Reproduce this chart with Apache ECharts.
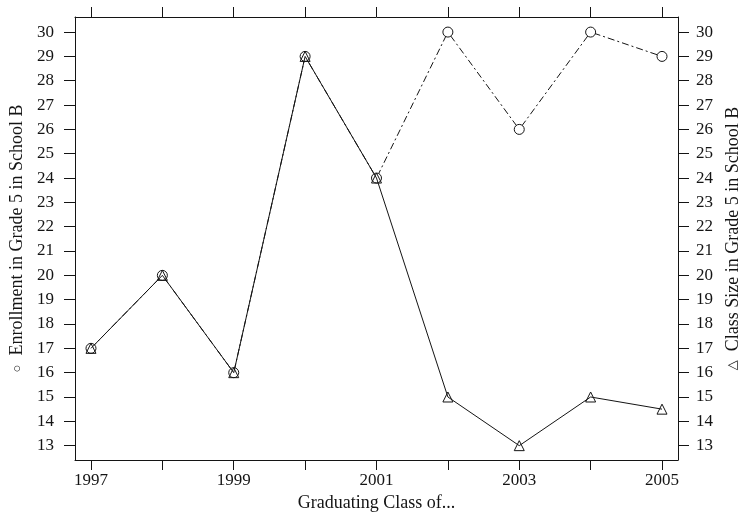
<!DOCTYPE html>
<html>
<head>
<meta charset="utf-8">
<script src="https://cdn.jsdelivr.net/npm/echarts@6/dist/echarts.min.js"></script>
<style>html,body{margin:0;padding:0;background:#fff}#c{width:739px;height:515px}</style>
</head>
<body>
<div id="c"></div>
<script>
var years = [1997, 1998, 1999, 2000, 2001, 2002, 2003, 2004, 2005];
var enrollment = [17, 20, 16, 29, 24, 30, 26, 30, 29];
var classSize = [17, 20, 16, 29, 24, 15, 13, 15, 14.5];
var xLabelYears = [1997, 1999, 2001, 2003, 2005];
var yTicks = [13,14,15,16,17,18,19,20,21,22,23,24,25,26,27,28,29,30];

var font = '"Liberation Serif", "DejaVu Serif", serif';
var ink = '#141414';

function pairs(xs, ys) { return xs.map(function (x, i) { return [x, ys[i]]; }); }

var chart = echarts.init(document.getElementById('c'));
var xCommon = {
  type: 'value', min: 1996.776, max: 2005.224,
  splitLine: { show: false },
  axisLine: { show: true, onZero: false, lineStyle: { color: ink, width: 1 } },
  axisTick: { show: true, length: 10, customValues: years, lineStyle: { color: ink } }
};
var yCommon = {
  type: 'value', min: 12.41, max: 30.62,
  splitLine: { show: false },
  axisLine: { show: true, onZero: false, lineStyle: { color: ink, width: 1 } },
  axisTick: { show: true, length: 11, customValues: yTicks, lineStyle: { color: ink } },
  nameLocation: 'middle', nameRotate: 90,
  nameTextStyle: { color: ink, fontFamily: font, fontSize: 18,
    rich: { s: { fontSize: 13, color: ink, fontFamily: font } } }
};
chart.setOption({
  animation: false,
  backgroundColor: '#fff',
  grid: { left: 75, right: 61, top: 17, bottom: 55, containLabel: false, outerBoundsMode: 'none' },
  xAxis: [
    Object.assign({}, xCommon, {
      position: 'bottom',
      name: 'Graduating Class of...', nameLocation: 'middle', nameGap: 32,
      nameTextStyle: { color: ink, fontFamily: font, fontSize: 18 },
      axisLabel: { customValues: xLabelYears, color: ink, fontFamily: font, fontSize: 17, margin: 12,
        formatter: function (v) { return String(v); } }
    }),
    Object.assign({}, xCommon, { position: 'top', axisLabel: { show: false } })
  ],
  yAxis: [
    Object.assign({}, yCommon, { position: 'left', name: '{s|○}  Enrollment in Grade 5 in School B', nameGap: 48,
      axisLabel: { customValues: yTicks, color: ink, fontFamily: font, fontSize: 17, margin: 21 } }),
    Object.assign({}, yCommon, { position: 'right', name: '{s|△}  Class Size in Grade 5 in School B', nameGap: 42,
      axisLabel: { customValues: yTicks, color: ink, fontFamily: font, fontSize: 17, margin: 18 } })
  ],
  series: [
    {
      name: 'Enrollment', type: 'line', data: pairs(years, enrollment),
      symbol: 'circle', symbolSize: 10,
      itemStyle: { color: '#fff', borderColor: ink, borderWidth: 1 },
      lineStyle: { color: ink, width: 1, type: [7, 3, 2, 3] },
      z: 2
    },
    {
      name: 'Class Size', type: 'line', data: pairs(years, classSize),
      symbol: 'triangle', symbolSize: 10,
      itemStyle: { color: 'rgba(255,255,255,0)', borderColor: ink, borderWidth: 1 },
      lineStyle: { color: ink, width: 1, type: 'solid' },
      z: 3
    }
  ]
});
</script>
</body>
</html>
